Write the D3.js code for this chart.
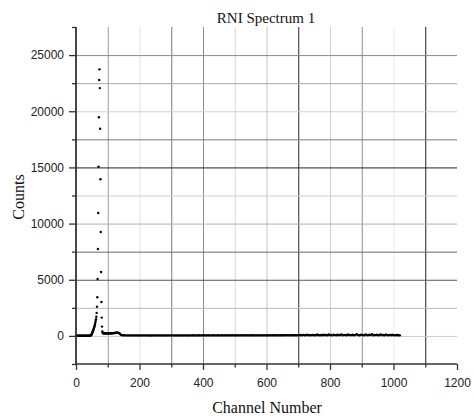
<!DOCTYPE html>
<html>
<head>
<meta charset="utf-8">
<script src="https://cdn.jsdelivr.net/npm/d3@7/dist/d3.min.js"></script>
<style>
  html, body { margin: 0; padding: 0; background: #fff; }
  svg { display: block; }
</style>
</head>
<body>
<svg id="chart" width="473" height="416"></svg>
<script>
// ---------------- DATA ----------------
const titleText = "RNI Spectrum 1";
const xLabel = "Channel Number";
const yLabel = "Counts";

const xMajorTicks = [0, 200, 400, 600, 800, 1000, 1200];
const xMinorTicks = [100, 300, 500, 700, 900, 1100];
const yMajorTicks = [0, 5000, 10000, 15000, 20000, 25000];
const yMinorTicks = [-2500, 2500, 7500, 12500, 17500, 22500, 27500];
const xGridValues = [100, 200, 300, 400, 500, 600, 700, 800, 900, 1000, 1100];
const yGridValues = [0, 2500, 5000, 7500, 10000, 12500, 15000, 17500, 20000, 22500, 25000];

// baseline before the peak (every 2 channels)
const baseChannels = [0,2,4,6,8,10,12,14,16,18,20,22,24,26,28,30,32,34,36,38,40,42,44];
const baseCounts   = [18,22,15,20,25,17,21,14,19,24,16,22,18,20,15,23,19,21,17,24,20,26,30];

// rising edge + main peak (every channel)
const peakChannels = [45,46,47,48,49,50,51,52,53,54,55,56,57,58,59,60,61,62,63,64,65,
                      66,67,68,69,70,71,72,73,74,75,76,77,78,79,80,81,82,83,84];
const peakCounts   = [38,45,50,90,140,200,260,330,400,480,560,650,740,840,950,1070,1200,1340,1480,1700,2050,
                      2600,3440,5070,7740,10940,15060,19460,22780,23730,22060,18440,13940,9250,5690,3020,1630,830,400,260];

// shelf after the peak (every 2 channels)
const shelfChannels = [86,88,90,92,94,96,98,100,102,104,106,108,110,112,114,116,118,120,122,124,126,128,130,132,134,136,138,140,142];
const shelfCounts   = [230,220,235,225,230,220,228,232,225,230,235,228,232,238,240,245,250,255,262,270,280,288,290,285,275,250,200,140,90];

// long flat tail, channels 144..1020 every 4 channels
const tailCounts = [
  70,62,55,50,48,52,45,50,47,44,49,46,52,43,48,50,45,47,51,44,
  46,50,43,48,45,52,47,44,49,46,50,43,47,51,45,48,44,50,46,49,
  45,48,52,44,47,50,46,43,49,47,51,45,48,44,50,47,53,46,49,45,
  48,55,50,46,52,58,47,50,54,49,45,52,56,48,51,47,53,50,46,55,
  52,48,57,50,54,47,51,56,49,53,48,58,51,47,55,50,53,49,56,52,
  50,55,48,53,58,51,47,54,50,57,52,49,55,51,60,48,53,56,50,54,
  58,52,62,55,50,65,57,53,60,55,68,52,58,63,56,70,54,60,66,57,
  62,75,58,90,60,68,110,63,72,58,95,66,80,61,120,70,64,85,59,105,
  67,78,62,130,70,88,64,100,73,60,115,69,82,140,66,92,71,62,125,75,
  84,68,110,63,96,150,72,65,88,118,70,62,135,80,67,98,74,160,64,90,
  70,108,62,85,140,68,76,60,120,72,64,95,66,110,58,74,62,88,55,50
];
const tailChannels = d3.range(144, 1021, 4);

// ---------------- CHART ----------------
(function () {
const svg = d3.select("#chart");
const plotL = 76, plotR = 457, plotT = 27, plotB = 364;

const x = d3.scaleLinear().domain([0, 1200]).range([plotL, plotR]);
const y = d3.scaleLinear().domain([-2500, 27500]).range([plotB, plotT]);

const serif = "'Liberation Serif', 'Times New Roman', Times, serif";
const sans = "'Liberation Sans', Arial, Helvetica, sans-serif";

// grid shades (style only)
const vShade = {100:"#9a9a9a",200:"#e2e2e2",300:"#7a7a7a",400:"#8a8a8a",500:"#d8d8d8",600:"#c4c4c4",
                700:"#2a2a2a",800:"#cfcfcf",900:"#8c8c8c",1000:"#ececec",1100:"#222"};
const hShade = {0:"#cccccc",2500:"#b8b8b8",5000:"#555",7500:"#6a6a6a",10000:"#b0b0b0",12500:"#cfcfcf",
                15000:"#222",17500:"#7a7a7a",20000:"#cfcfcf",22500:"#a8a8a8",25000:"#8a8a8a"};

const grid = svg.append("g");
grid.selectAll("line.v").data(xGridValues).join("line").attr("class", "v")
  .attr("x1", d => x(d) + 0.5).attr("x2", d => x(d) + 0.5)
  .attr("y1", plotT).attr("y2", plotB)
  .attr("stroke", d => vShade[d]).attr("stroke-width", 1);
grid.selectAll("line.h").data(yGridValues).join("line").attr("class", "h")
  .attr("x1", plotL).attr("x2", plotR)
  .attr("y1", d => y(d) + 0.5).attr("y2", d => y(d) + 0.5)
  .attr("stroke", d => hShade[d]).attr("stroke-width", 1);

// data points
const points = [];
baseChannels.forEach((c, i) => points.push([c, baseCounts[i]]));
peakChannels.forEach((c, i) => points.push([c, peakCounts[i]]));
shelfChannels.forEach((c, i) => points.push([c, shelfCounts[i]]));
tailChannels.forEach((c, i) => points.push([c, tailCounts[i]]));

svg.append("g").selectAll("circle").data(points).join("circle")
  .attr("cx", d => x(d[0])).attr("cy", d => y(d[1]))
  .attr("r", 1.2).attr("fill", "#000");

// axes
function styleAxis(g) {
  g.selectAll("line").attr("stroke", "#333").attr("stroke-width", 1.3);
  g.selectAll("text").attr("font-family", sans).attr("font-size", 12).attr("fill", "#222");
  g.select(".domain").remove();
}

svg.append("g").attr("transform", `translate(0,${plotB})`)
  .call(d3.axisBottom(x).tickValues(xMajorTicks).tickSize(6).tickSizeOuter(0).tickPadding(8).tickFormat(d3.format("d")))
  .call(styleAxis);
svg.append("g").attr("transform", `translate(0,${plotB})`)
  .call(d3.axisBottom(x).tickValues(xMinorTicks).tickSize(3.5).tickSizeOuter(0).tickFormat(""))
  .call(styleAxis);

svg.append("g").attr("transform", `translate(${plotL},0)`)
  .call(d3.axisLeft(y).tickValues(yMajorTicks).tickSize(7).tickSizeOuter(0).tickPadding(5).tickFormat(d3.format("d")))
  .call(styleAxis);
svg.append("g").attr("transform", `translate(${plotL},0)`)
  .call(d3.axisLeft(y).tickValues(yMinorTicks).tickSize(4).tickSizeOuter(0).tickFormat(""))
  .call(styleAxis);

// axis lines
svg.append("line").attr("x1", plotL).attr("x2", plotR).attr("y1", plotB).attr("y2", plotB)
  .attr("stroke", "#333").attr("stroke-width", 1.5);
svg.append("line").attr("x1", plotL).attr("x2", plotL).attr("y1", plotT).attr("y2", plotB)
  .attr("stroke", "#333").attr("stroke-width", 1.8);

// title & labels
svg.append("text").attr("x", 266).attr("y", 22.5).attr("text-anchor", "middle")
  .attr("font-family", serif).attr("font-size", 15).attr("fill", "#111").text(titleText);
svg.append("text").attr("x", 267).attr("y", 413).attr("text-anchor", "middle")
  .attr("font-family", serif).attr("font-size", 16).attr("fill", "#111").text(xLabel);
svg.append("text").attr("transform", "translate(23.5,197) rotate(-90)").attr("text-anchor", "middle")
  .attr("font-family", serif).attr("font-size", 16).attr("fill", "#111").text(yLabel);
})();
</script>
</body>
</html>
